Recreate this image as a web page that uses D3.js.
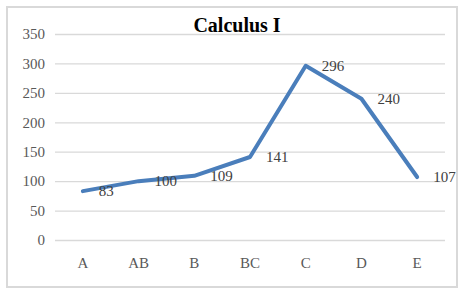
<!DOCTYPE html>
<html><head><meta charset="utf-8">
<script src="https://cdn.jsdelivr.net/npm/d3@7"></script>
<style>body{margin:0;background:#fff}svg{display:block}</style>
</head><body>
<script>
const categories = ["A","AB","B","BC","C","D","E"];
const values = [83,100,109,141,296,240,107];
const yTicks = [0,50,100,150,200,250,300,350];
const title = "Calculus I";

const W = 462, H = 289;
const svg = d3.select("body").append("svg").attr("width", W).attr("height", H);
svg.append("rect").attr("x",7).attr("y",7).attr("width",450).attr("height",280)
  .attr("fill","#fff").attr("stroke","#d9d9d9").attr("stroke-width",2);

const x = d3.scaleBand().domain(categories).range([55,445]);
const y = d3.scaleLinear().domain([0,350]).range([240,34]);
const font = "'Liberation Serif','Times New Roman',serif";

const yAxis = svg.append("g").attr("transform","translate(55,0)")
  .call(d3.axisLeft(y).tickValues(yTicks).tickSize(-390).tickPadding(10));
yAxis.select(".domain").remove();
yAxis.selectAll(".tick line").attr("stroke","#d9d9d9").attr("stroke-width",1.3);
yAxis.selectAll(".tick text").attr("fill","#595959").style("font-family",font).style("font-size","15px");

const xAxis = svg.append("g").attr("transform","translate(0,240)")
  .call(d3.axisBottom(x).tickSize(0).tickPadding(17));
xAxis.select(".domain").remove();
xAxis.selectAll(".tick text").attr("fill","#595959").style("font-family",font).style("font-size","15px");

const line = d3.line().x((d,i)=>x(categories[i])+x.bandwidth()/2).y(d=>y(d));
svg.append("path").datum(values).attr("d",line).attr("fill","none")
  .attr("stroke","#4a7ebb").attr("stroke-width",4).attr("stroke-linejoin","round").attr("stroke-linecap","round");

svg.selectAll(".lbl").data(values).enter().append("text")
  .attr("x",(d,i)=>x(categories[i])+x.bandwidth()/2+16)
  .attr("y",d=>y(d)).attr("dy","0.35em")
  .attr("fill","#404040").style("font-family",font).style("font-size","15px")
  .text(d=>d);

svg.append("text").attr("x",237).attr("y",32).attr("text-anchor","middle")
  .style("font-family",font).style("font-size","20px").style("font-weight","bold")
  .attr("fill","#000").text(title);
</script>
</body></html>
